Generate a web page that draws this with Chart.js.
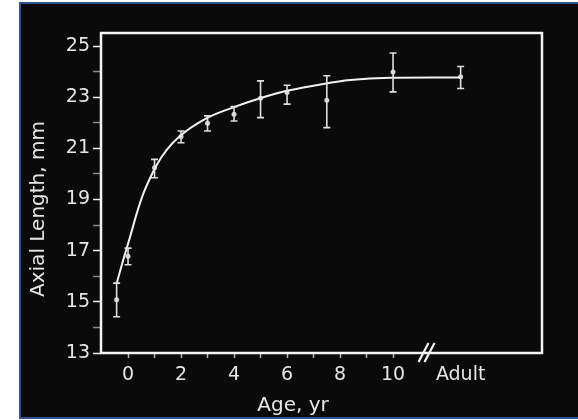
<!DOCTYPE html>
<html>
<head>
<meta charset="utf-8">
<script src="https://cdn.jsdelivr.net/npm/chart.js@4/dist/chart.umd.min.js"></script>
<style>
  body { margin: 0; background: #fff; }
  canvas { display: block; }
</style>
</head>
<body>
<canvas id="eyeChart" width="578" height="420"></canvas>
<script>
// Measured points (mean with error bar ends), age in years
const ages = [-0.43, 0, 1, 2, 3, 4, 5, 6, 7.5, 10, 12.55];
const means = [15.08, 16.78, 20.24, 21.46, 21.98, 22.33, 22.96, 23.18, 22.88, 23.99, 23.8];
const errHigh = [15.73, 17.1, 20.57, 21.68, 22.27, 22.63, 23.64, 23.47, 23.84, 24.73, 24.2];
const errLow = [14.42, 16.45, 19.85, 21.22, 21.68, 22.07, 22.2, 22.73, 21.81, 23.21, 23.34];

// Fitted curve
const curveAge = [-0.43, -0.18, 0.08, 0.33, 0.58, 0.83, 1.08, 1.46, 1.96, 2.97, 3.97, 4.98, 5.99, 7.37, 8.38, 9.91, 11.5, 12.55];
const curveLen = [15.72, 16.64, 17.55, 18.46, 19.24, 19.83, 20.35, 20.94, 21.48, 22.18, 22.6, 22.96, 23.25, 23.52, 23.67, 23.76, 23.77, 23.77];

// Axis ticks
const xTicks = [0, 1, 2, 3, 4, 5, 6, 7, 8, 9, 10, 12.55];
const xLabels = ["0", "", "2", "", "4", "", "6", "", "8", "", "10", "Adult"];
const yLabelled = [13, 15, 17, 19, 21, 23, 25];
const breakAt = 11.3;

const xTitle = "Age, yr";
const yTitle = "Axial Length, mm";
const fontFamily = '"DejaVu Sans", "Liberation Sans", sans-serif';

// page frame, white axis box, titles, error bars
const decorations = {
  id: "decorations",
  beforeDraw(chart) {
    const c = chart.ctx;
    c.save();
    c.fillStyle = "#ffffff";
    c.fillRect(0, 0, chart.width, chart.height);
    c.fillStyle = "#0a0a0a";
    c.fillRect(20, 3, chart.width, 415);
    c.strokeStyle = "#2e5590";
    c.lineWidth = 2;
    c.strokeRect(20, 3, chart.width + 5, 415);
    c.restore();
  },
  afterDatasetsDraw(chart) {
    const c = chart.ctx;
    const xs = chart.scales.x, ys = chart.scales.y;
    c.save();
    c.strokeStyle = "#e0e0e0";
    c.lineWidth = 1.6;
    for (let i = 0; i < ages.length; i++) {
      const px = xs.getPixelForValue(ages[i]);
      const top = ys.getPixelForValue(errHigh[i]);
      const bot = ys.getPixelForValue(errLow[i]);
      c.beginPath();
      c.moveTo(px, top); c.lineTo(px, bot);
      c.moveTo(px - 3.5, top); c.lineTo(px + 3.5, top);
      c.moveTo(px - 3.5, bot); c.lineTo(px + 3.5, bot);
      c.stroke();
    }
    c.restore();
  },
  afterDraw(chart) {
    const c = chart.ctx;
    const a = chart.chartArea;
    c.save();
    c.strokeStyle = "#f4f4f4";
    c.lineWidth = 2.5;
    c.strokeRect(a.left, a.top, a.right - a.left, a.bottom - a.top);

    // axis break marks
    const bx = chart.scales.x.getPixelForValue(breakAt);
    c.lineWidth = 2.2;
    c.beginPath();
    c.moveTo(bx - 9, a.bottom + 9); c.lineTo(bx + 1, a.bottom - 10);
    c.moveTo(bx - 3, a.bottom + 9); c.lineTo(bx + 7, a.bottom - 10);
    c.stroke();

    c.fillStyle = "#e6e6e6";
    c.font = "20px " + fontFamily;
    c.textAlign = "center";
    c.textBaseline = "middle";
    c.fillText(xTitle, 293, 406);
    c.translate(39, 209);
    c.rotate(-Math.PI / 2);
    c.fillText(yTitle, 0, 0);
    c.restore();
  }
};

new Chart(document.getElementById("eyeChart"), {
  type: "scatter",
  data: {
    datasets: [
      {
        type: "line",
        data: curveAge.map((x, i) => ({ x: x, y: curveLen[i] })),
        borderColor: "#f2f2f2",
        borderWidth: 2,
        pointRadius: 0,
        cubicInterpolationMode: "monotone",
        fill: false
      },
      {
        data: ages.map((x, i) => ({ x: x, y: means[i] })),
        pointRadius: 2.5,
        pointBackgroundColor: "#d0d0d0",
        pointBorderWidth: 0
      }
    ]
  },
  options: {
    responsive: false,
    animation: false,
    devicePixelRatio: 1,
    layout: { padding: { left: 0, top: 33, right: 36, bottom: 0 } },
    plugins: { legend: { display: false }, tooltip: { enabled: false } },
    scales: {
      x: {
        type: "linear",
        min: -1.02,
        max: 15.62,
        afterBuildTicks(scale) {
          scale.ticks = xTicks.map(v => ({ value: v }));
        },
        afterFit(scale) { scale.height = 67; },
        ticks: {
          maxRotation: 0,
          autoSkip: false,
          padding: 6,
          color: "#e6e6e6",
          font: { family: fontFamily, size: 19 },
          callback: (v, i) => xLabels[i]
        },
        grid: {
          drawOnChartArea: false,
          tickLength: 5,
          tickWidth: 1.5,
          tickColor: ctx => ctx.tick && ctx.tick.value > 10 ? "rgba(0,0,0,0)" : "#b8b8b8"
        },
        border: { display: false }
      },
      y: {
        min: 13,
        max: 25.51,
        afterFit(scale) { scale.width = 101; },
        ticks: {
          stepSize: 1,
          includeBounds: false,
          padding: 3,
          color: "#e6e6e6",
          font: { family: fontFamily, size: 19 },
          callback: v => yLabelled.includes(v) ? String(v) : ""
        },
        grid: {
          drawOnChartArea: false,
          tickLength: 8,
          tickWidth: 1.5,
          tickColor: ctx => ctx.tick && yLabelled.includes(ctx.tick.value) ? "#f0f0f0" : "#8a8a8a"
        },
        border: { display: false }
      }
    }
  },
  plugins: [decorations]
});
</script>
</body>
</html>
